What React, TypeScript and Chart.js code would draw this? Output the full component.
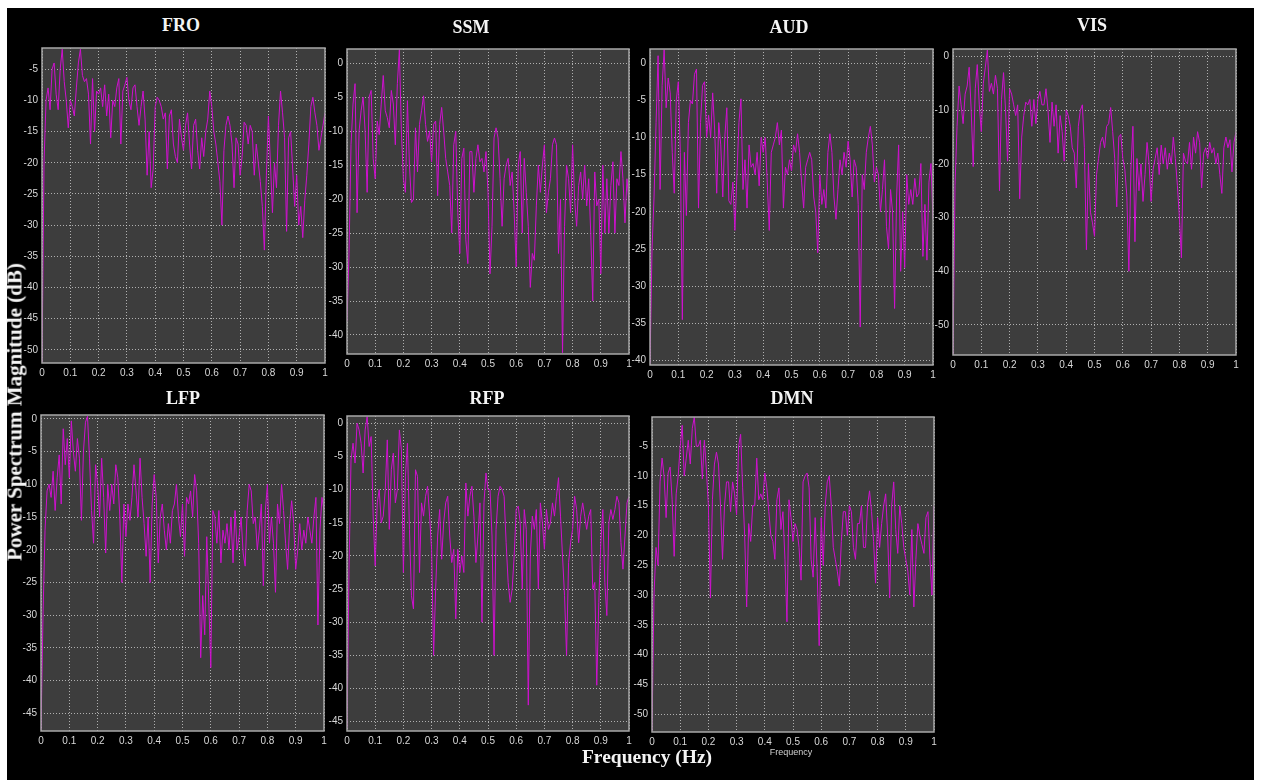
import React, { useEffect, useRef } from "react";
import { Chart, registerables } from "chart.js";

Chart.register(...registerables);

// Frequency axis: 141 evenly spaced bins from 0 to 1 Hz
const SAMPLE_COUNT = 141;
const FREQ_HZ = Array.from({ length: SAMPLE_COUNT }, (_, i) => i / (SAMPLE_COUNT - 1));

const NETWORK_NAMES = ["FRO", "SSM", "AUD", "VIS", "LFP", "RFP", "DMN"];

// Power spectrum magnitude (dB) per network
const FRO_DB = [
  -52, -20, -10, -8, -11.5, -5, -4, -9, -11.5, -5,
  -1.8, -7, -10, -14.4, -10, -11, -12.5, -8, -4, -1.8,
  -6, -7, -6.5, -9, -17, -6.5, -15, -8.5, -9, -8,
  -11, -7.5, -12.5, -9, -16, -10, -11, -8, -6.5, -17,
  -8.5, -7.5, -6.3, -10, -11.5, -8, -7.5, -11, -14, -11,
  -8.5, -13, -22, -15, -24, -21, -11, -9.5, -10, -11,
  -13, -12, -21, -12.5, -11.5, -17, -19, -20, -13, -16,
  -18, -14, -12, -17, -21, -14, -13, -18, -21, -16,
  -19, -15, -13, -8.5, -11, -15, -17, -20, -23, -30,
  -18, -14, -12.5, -14, -17, -24, -16, -17, -22, -19,
  -13.5, -14, -17, -14, -15, -22, -17, -20, -23, -27,
  -34, -22, -12.5, -20, -28, -20, -24, -14, -8.5, -12,
  -16, -31, -16, -15, -21, -27, -22, -30, -27, -32,
  -26, -22, -17, -11, -9.5, -12, -14, -18, -16, -14,
  -12,
];

const SSM_DB = [
  -38, -28, -12, -6, -3, -22, -10, -7, -5, -10,
  -19, -5, -4, -14, -17, -8.5, -10.5, -6, -1.8, -7,
  -8, -9.5, -4, -6, -12, -3, 2, -10, -17, -19,
  -5.5, -15, -20.5, -20, -9.5, -16, -9, -7, -4.8, -9,
  -11.5, -10, -14.5, -9, -8.5, -19.5, -9, -6.5, -10, -14,
  -16, -18, -25, -12, -10, -22, -28, -14, -12.5, -26,
  -29.5, -13, -13, -19, -14, -12, -14.5, -14, -16, -13,
  -19, -31, -24, -11, -9.5, -11, -17, -24, -17, -15,
  -14, -18, -16, -22, -30, -15, -13, -25, -14, -19,
  -24, -33, -28, -29, -21, -15, -19, -15, -12, -22,
  -19, -17, -12, -11, -12, -28, -20, -42.6, -24, -15,
  -17, -22, -12, -20, -24, -18, -16, -20, -15, -21,
  -17, -25, -35, -16, -21, -20, -31, -15, -25, -17,
  -25, -18, -14.5, -25, -17, -18, -13, -17, -23.5, -17,
  -20.5,
];

const AUD_DB = [
  -40.5, -25, -18, -8, 1, -17, -3, 1.8, -6, -2,
  -4, -12, -17.5, -5, -2.5, -12, -34.5, -12, -20.5, -8,
  -5, -5.5, -1.5, -0.8, -19.5, -8, -3, -2.5, -10, -7,
  -10, -4, -9, -17.5, -8, -11, -18, -10, -6, -18.5,
  -19, -16, -22.5, -15, -8, -4.8, -17, -13, -19.5, -11,
  -14, -13.5, -15, -12, -16.5, -10, -12, -10, -16, -22.5,
  -12, -11, -10, -8, -11, -9, -19.5, -14, -15, -13,
  -14.5, -11, -12, -9.5, -12, -16, -19.5, -14, -13, -12,
  -13, -18, -20, -25.5, -15, -19, -17, -19.5, -12, -9.5,
  -12, -18, -21, -17, -13, -15, -12, -14, -10.5, -13,
  -18, -13, -14, -19, -35.5, -15, -17, -12, -10, -8.5,
  -11, -16, -14, -15, -20, -17, -13, -22, -25, -17,
  -20, -33, -18, -11, -28, -20, -27.5, -15, -19, -17,
  -19, -15.5, -18, -17.5, -13.5, -26, -19, -26.5, -16, -13.5,
  -21,
];

const VIS_DB = [
  -55.5, -24, -13, -5.5, -9, -12.5, -7, -5.5, -2, -10,
  -20.5, -6, -1.5, -9, -14, -5, -2, 1.2, -6.5, -5,
  -7, -3.5, -6, -25, -8, -3, -10, -19.5, -6, -7,
  -9, -11, -9, -26.5, -15, -11, -8.5, -9, -8, -13,
  -8, -12.5, -8, -6.5, -9, -9, -6, -10, -16, -8.5,
  -13, -9, -18, -11, -14, -19.5, -10, -11, -13, -17,
  -18, -24.5, -13, -10, -9, -17, -36, -20, -29, -31,
  -33.5, -22, -19, -16, -15, -17, -13, -12.5, -9.5, -14,
  -19, -28, -15, -14.5, -19, -21, -26, -40, -21, -13,
  -34.5, -19, -25, -20, -27, -22, -16, -20, -27, -21,
  -19, -17, -22, -16.5, -20, -17, -21, -18, -20, -15,
  -19, -24, -30, -37.5, -18, -19.5, -20, -16, -21, -15,
  -18, -14, -16, -24.5, -18, -17, -19, -16, -18, -17,
  -20, -18, -22, -25.5, -17, -15, -17, -15.5, -21.5, -16,
  -14,
];

const LFP_DB = [
  -47.5, -30, -17, -11, -10, -12, -8, -14, -9, -5.5,
  -13, -1.5, -7, -3, -9, -0.3, -5, -8, -3, -6,
  -15.5, -5, -0.5, 0.4, -6, -14, -19, -7, -10, -15,
  -6, -12, -20.5, -10, -14, -10, -13, -7, -9, -15,
  -25, -13, -18, -13, -15.5, -12, -7, -11, -15, -6,
  -12, -16, -21, -15, -25, -13, -8.5, -12, -22, -15,
  -13, -17, -20, -16, -19, -14, -13, -10, -15, -18,
  -13, -21, -12, -13, -11, -15, -8.5, -11, -19, -36.5,
  -27, -33, -18, -28, -38, -14, -15, -19, -14, -22,
  -17, -19, -16, -20, -15, -22, -14, -20, -18, -15,
  -20.5, -22.5, -14, -10, -11, -16, -15, -20, -17, -13,
  -25.5, -14, -10, -19, -15, -19, -26.5, -13, -16, -10,
  -14, -19, -23, -16, -12.5, -16, -23, -20, -16, -20,
  -17, -19, -15, -17, -19, -15, -12, -31.5, -17, -12,
  -14,
];

const RFP_DB = [
  -46, -22, -5.5, -3, -6, 0, -1, -3, -7.5, -1,
  1, -3.5, -2, -14, -21.5, -12, -10, -15, -14, -10,
  -2.5, -16, -7, -4.5, -12, -10, -1, -4, -22.5, -8,
  -3, -16, -26, -28, -7, -8, -22.5, -12, -14, -11,
  -9.5, -14, -19, -35, -25, -17, -13, -20.5, -15, -12,
  -11, -17, -21, -19, -29.5, -19, -22.5, -20, -22.5, -9,
  -14, -11, -9.5, -14, -21, -17, -12, -30, -12, -7.5,
  -10, -10, -17, -35, -16, -11, -9.5, -10, -11, -18,
  -24, -27, -25, -20, -13, -12.5, -15, -25, -13, -16,
  -42.5, -20, -14, -16, -13, -25, -12, -15, -19, -13,
  -16, -15, -12, -14, -11, -8.2, -14, -20, -26, -35,
  -21, -18, -16, -11, -13, -18, -14, -12, -14, -16,
  -14, -13, -25, -24, -39.5, -27, -18, -13, -24, -29,
  -15, -13, -14.5, -13, -11, -12, -18, -22, -17, -12,
  -11,
];

const DMN_DB = [
  -52.8, -30, -22, -25, -11, -7, -10, -17, -9.5, -8.5,
  -14, -23.5, -13, -10, -5, -1.5, -10, -7, -4, -8,
  -2, -0.1, -5, -5, -4, -10.5, -4, -9, -15, -30.5,
  -14, -8, -6, -8, -15, -24, -15, -11, -11, -16,
  -11, -13, -16.5, -5, -3, -12, -20, -32, -18, -21,
  -15, -15, -7, -14, -13, -14, -9.5, -12, -16, -20,
  -21, -24, -14, -12, -19, -16, -24, -34.5, -14, -17,
  -21, -18, -19, -22, -27.5, -11, -10, -9.5, -12, -24,
  -27, -17, -26, -38.5, -17, -25, -15, -11, -10, -15,
  -22, -24, -26, -28.5, -21, -16, -16, -20, -15, -16,
  -22, -24, -18, -18, -15, -22, -22, -15, -12.5, -16,
  -21, -28, -17, -22, -18, -15, -13, -20, -30.5, -15,
  -11, -19, -23, -15, -18, -22, -24, -26, -30, -19,
  -32, -24, -18, -20, -21.5, -23, -17, -16, -24, -30,
  -15,
];

const SERIES_DB = [FRO_DB, SSM_DB, AUD_DB, VIS_DB, LFP_DB, RFP_DB, DMN_DB];

// Y-axis limits [min, max] and tick spacing per panel
const Y_LIMITS = [
  [-52.1, -1.6],
  [-42.8, 2.1],
  [-40.6, 1.9],
  [-55.6, 1.4],
  [-47.7, 0.6],
  [-46.4, 1.1],
  [-53, -0.1],
];
const Y_STEPS = [5, 5, 5, 10, 5, 5, 5];
const X_TICK_STEP = 0.1;

// Plot-area rectangles [left, top, right, bottom] and title anchor points
const PLOT_BOXES = [
  [42, 48, 325, 363],
  [347, 49, 629, 354],
  [650, 49, 933, 365],
  [953, 49, 1236, 355],
  [41, 415, 324, 731],
  [347, 416, 629, 731],
  [652, 417, 934, 732],
];
const TITLE_ANCHORS = [
  [181, 25],
  [471, 27],
  [789, 27],
  [1092, 25],
  [183, 398],
  [487, 398],
  [792, 398],
];

const PAD_L = 40;
const PAD_T = 10;
const PAD_R = 10;
const PAD_B = 22;

const PLOT_BG = "#3d3d3d";
const FRAME_COLOR = "#a8a8a8";
const GRID_COLOR = "rgba(215,215,215,0.75)";
const LINE_COLOR = "#cf10cf";
const TICK_COLOR = "#d8d8d8";
const TICK_FONT = "'Liberation Sans Narrow', 'Liberation Sans', Arial, sans-serif";
const SERIF = "'Liberation Serif', 'Times New Roman', serif";

const plotFrame = {
  id: "plotFrame",
  beforeDraw(chart: any) {
    const { ctx, chartArea: a } = chart;
    ctx.save();
    ctx.fillStyle = PLOT_BG;
    ctx.fillRect(a.left, a.top, a.right - a.left, a.bottom - a.top);
    ctx.restore();
  },
  afterDraw(chart: any) {
    const { ctx, chartArea: a } = chart;
    ctx.save();
    ctx.strokeStyle = FRAME_COLOR;
    ctx.lineWidth = 1.5;
    ctx.strokeRect(a.left, a.top, a.right - a.left, a.bottom - a.top);
    ctx.restore();
  },
};

function fmtX(v: number) {
  return String(Number(v.toFixed(1)));
}

function SpectrumPanel({ index }: { index: number }) {
  const ref = useRef<HTMLCanvasElement | null>(null);
  const [l, t, r, b] = PLOT_BOXES[index];
  const w = r - l + PAD_L + PAD_R;
  const h = b - t + PAD_T + PAD_B;

  useEffect(() => {
    const values = SERIES_DB[index];
    const points = values.map((v, i) => ({ x: FREQ_HZ[i], y: v }));
    const [yMin, yMax] = Y_LIMITS[index];
    const yStep = Y_STEPS[index];
    const chart = new Chart(ref.current as HTMLCanvasElement, {
      type: "line",
      data: {
        datasets: [
          {
            label: NETWORK_NAMES[index],
            data: points,
            borderColor: LINE_COLOR,
            borderWidth: 1,
            pointRadius: 0,
            tension: 0,
            fill: false,
          },
        ],
      },
      options: {
        responsive: false,
        maintainAspectRatio: false,
        animation: false,
        devicePixelRatio: 1,
        layout: { padding: { left: 0, top: PAD_T, right: PAD_R, bottom: 0 }, autoPadding: false },
        plugins: { legend: { display: false }, tooltip: { enabled: false }, title: { display: false } },
        scales: {
          x: {
            type: "linear",
            min: 0,
            max: 1,
            afterFit: (s: any) => {
              s.height = PAD_B;
            },
            grid: { color: GRID_COLOR, lineWidth: 1, drawTicks: false },
            border: { display: false, dash: [1, 2] },
            ticks: {
              stepSize: X_TICK_STEP,
              autoSkip: false,
              maxRotation: 0,
              padding: 4,
              color: TICK_COLOR,
              font: { family: TICK_FONT, size: 10 },
              callback: (v: any) => fmtX(Number(v)),
            },
          },
          y: {
            type: "linear",
            min: yMin,
            max: yMax,
            afterFit: (s: any) => {
              s.width = PAD_L;
            },
            // ticks on whole multiples of the step inside the limits
            afterBuildTicks: (s: any) => {
              const ticks: { value: number }[] = [];
              for (let k = Math.ceil(yMin / yStep); k * yStep <= yMax; k++) {
                ticks.push({ value: k * yStep });
              }
              s.ticks = ticks;
            },
            grid: { color: GRID_COLOR, lineWidth: 1, drawTicks: false },
            border: { display: false, dash: [1, 2] },
            ticks: {
              stepSize: yStep,
              includeBounds: false,
              padding: 4,
              color: TICK_COLOR,
              font: { family: TICK_FONT, size: 10 },
              callback: (v: any) => String(Math.round(Number(v))),
            },
          },
        },
      },
      plugins: [plotFrame],
    } as any);
    return () => chart.destroy();
  }, [index]);

  return (
    <canvas
      ref={ref}
      width={w}
      height={h}
      style={{ position: "absolute", left: l - PAD_L, top: t - PAD_T, width: w, height: h }}
    />
  );
}

const centered: React.CSSProperties = {
  position: "absolute",
  transform: "translate(-50%, -50%)",
  whiteSpace: "nowrap",
  lineHeight: 1,
};

export default function App() {
  return (
    <div style={{ position: "absolute", left: 0, top: 0, width: 1261, height: 780, background: "#fff", overflow: "hidden" }}>
      <div style={{ position: "absolute", left: 7, top: 8, width: 1247, height: 772, background: "#000" }} />
      {NETWORK_NAMES.map((name, i) => (
        <SpectrumPanel key={name} index={i} />
      ))}
      {NETWORK_NAMES.map((name, i) => (
        <div
          key={"t" + name}
          style={{
            ...centered,
            left: TITLE_ANCHORS[i][0],
            top: TITLE_ANCHORS[i][1],
            fontFamily: SERIF,
            fontWeight: "bold",
            fontSize: 18,
            color: "#f4f4f4",
          }}
        >
          {name}
        </div>
      ))}
      <div
        style={{
          ...centered,
          left: 14.5,
          top: 412,
          transform: "translate(-50%, -50%) rotate(-90deg)",
          fontFamily: SERIF,
          fontWeight: "bold",
          fontSize: 21,
          color: "#f4f4f4",
        }}
      >
        Power Spectrum Magnitude (dB)
      </div>
      <div
        style={{
          ...centered,
          left: 647,
          top: 757,
          fontFamily: SERIF,
          fontWeight: "bold",
          fontSize: 19.5,
          color: "#f4f4f4",
        }}
      >
        Frequency (Hz)
      </div>
      <div
        style={{
          ...centered,
          left: 791,
          top: 752,
          fontFamily: TICK_FONT,
          fontSize: 9,
          color: "#d0d0d0",
        }}
      >
        Frequency
      </div>
    </div>
  );
}
